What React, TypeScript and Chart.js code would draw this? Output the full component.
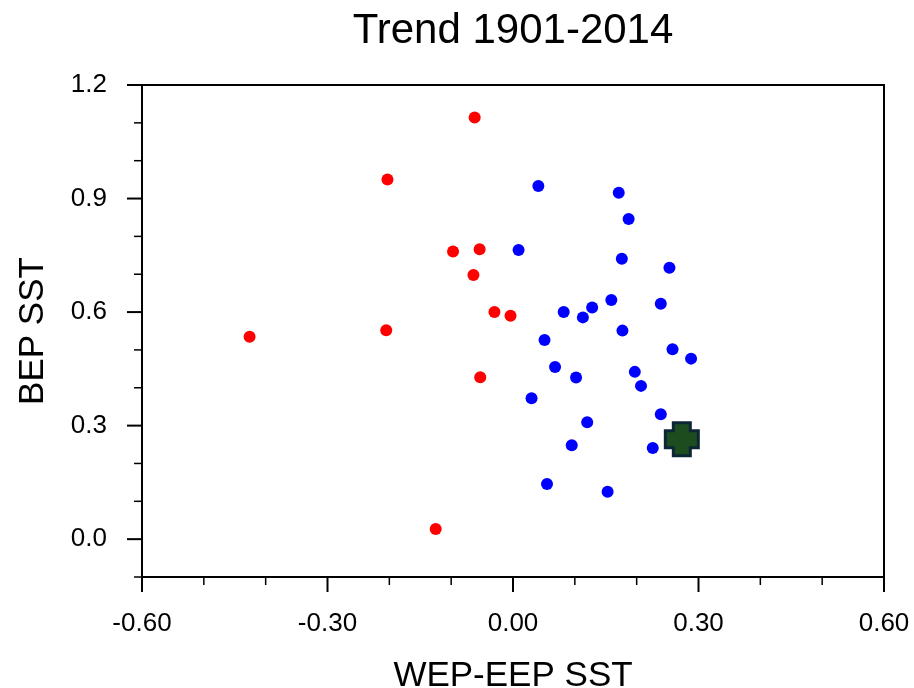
import React, { useEffect, useRef } from "react";
import { Chart, registerables } from "chart.js";

Chart.register(...registerables);

const TITLE = "Trend 1901-2014";
const X_TITLE = "WEP-EEP SST";
const Y_TITLE = "BEP SST";

const redX = [-0.062, -0.203, -0.097, -0.054, -0.064, -0.030, -0.004, -0.426, -0.205, -0.053, -0.125];
const redY = [1.114, 0.950, 0.760, 0.766, 0.698, 0.600, 0.590, 0.535, 0.552, 0.428, 0.027];

const blueX = [0.041, 0.171, 0.187, 0.009, 0.176, 0.253, 0.159, 0.128, 0.082, 0.113, 0.239, 0.177, 0.051, 0.258, 0.288, 0.068, 0.102, 0.197, 0.207, 0.030, 0.239, 0.120, 0.095, 0.226, 0.055, 0.153];
const blueY = [0.933, 0.915, 0.846, 0.764, 0.741, 0.717, 0.632, 0.612, 0.600, 0.586, 0.622, 0.551, 0.526, 0.502, 0.477, 0.455, 0.427, 0.442, 0.405, 0.372, 0.330, 0.309, 0.248, 0.241, 0.146, 0.125];

const crossX = [0.273];
const crossY = [0.264];

const xMajor = [-0.6, -0.3, 0, 0.3, 0.6];
const xMinor = [-0.5, -0.4, -0.2, -0.1, 0.1, 0.2, 0.4, 0.5];
const yMajor = [0, 0.3, 0.6, 0.9, 1.2];
const yMinor = [-0.1, 0.1, 0.2, 0.4, 0.5, 0.7, 0.8, 1.0, 1.1];

const FONT = "'Liberation Sans', Arial, Helvetica, sans-serif";

function makeCross(): HTMLCanvasElement {
  const c = document.createElement("canvas");
  const S = 38;
  c.width = S;
  c.height = S;
  const g = c.getContext("2d")!;
  const m = S / 2;
  const o = 16.5;
  const a = 8.5;
  g.beginPath();
  g.moveTo(m - a, m - o);
  g.lineTo(m + a, m - o);
  g.lineTo(m + a, m - a);
  g.lineTo(m + o, m - a);
  g.lineTo(m + o, m + a);
  g.lineTo(m + a, m + a);
  g.lineTo(m + a, m + o);
  g.lineTo(m - a, m + o);
  g.lineTo(m - a, m + a);
  g.lineTo(m - o, m + a);
  g.lineTo(m - o, m - a);
  g.lineTo(m - a, m - a);
  g.closePath();
  g.fillStyle = "#1d4d1f";
  g.fill();
  g.lineWidth = 3;
  g.lineJoin = "miter";
  g.strokeStyle = "#0c2636";
  g.stroke();
  return c;
}

const framePlugin = {
  id: "frame",
  afterDraw(chart: any) {
    const { ctx, chartArea, scales } = chart;
    const { left, right, top, bottom } = chartArea;
    const x = scales.x;
    const y = scales.y;
    ctx.save();
    ctx.strokeStyle = "#000";
    ctx.lineWidth = 2;
    ctx.strokeRect(left, top, right - left, bottom - top);

    const tickX = (vals: number[], len: number, w: number) => {
      ctx.lineWidth = w;
      vals.forEach((v) => {
        const px = x.getPixelForValue(v);
        ctx.beginPath();
        ctx.moveTo(px, bottom);
        ctx.lineTo(px, bottom + len);
        ctx.stroke();
      });
    };
    const tickY = (vals: number[], len: number, w: number) => {
      ctx.lineWidth = w;
      vals.forEach((v) => {
        const py = y.getPixelForValue(v);
        ctx.beginPath();
        ctx.moveTo(left, py);
        ctx.lineTo(left - len, py);
        ctx.stroke();
      });
    };
    tickX(xMajor, 15, 2);
    tickX(xMinor, 8, 1.5);
    tickY(yMajor, 15, 2);
    tickY(yMinor, 8, 1.5);

    ctx.fillStyle = "#000";
    ctx.textAlign = "center";
    ctx.textBaseline = "alphabetic";
    ctx.font = `42px ${FONT}`;
    ctx.fillText(TITLE, (left + right) / 2, 43);
    ctx.font = `35px ${FONT}`;
    ctx.fillText(X_TITLE, (left + right) / 2, 686);
    ctx.save();
    ctx.translate(43, (top + bottom) / 2);
    ctx.rotate(-Math.PI / 2);
    ctx.fillText(Y_TITLE, 0, 0);
    ctx.restore();
    ctx.restore();
  },
};

export default function App() {
  const ref = useRef<HTMLCanvasElement | null>(null);
  useEffect(() => {
    if (!ref.current) return;
    const cross = makeCross();
    const chart = new Chart(ref.current, {
      type: "scatter",
      data: {
        datasets: [
          {
            label: "obs",
            data: crossX.map((v, i) => ({ x: v, y: crossY[i] })),
            pointStyle: cross as any,
            pointRadius: 18,
            pointHoverRadius: 18,
          },
          {
            label: "blue",
            data: blueX.map((v, i) => ({ x: v, y: blueY[i] })),
            backgroundColor: "#0000ff",
            borderWidth: 0,
            pointRadius: 6,
            pointHoverRadius: 6,
          },
          {
            label: "red",
            data: redX.map((v, i) => ({ x: v, y: redY[i] })),
            backgroundColor: "#ff0000",
            borderWidth: 0,
            pointRadius: 6,
            pointHoverRadius: 6,
          },
        ],
      },
      options: {
        animation: false,
        responsive: false,
        events: [],
        layout: { padding: { top: 85, right: 30, left: 0, bottom: 0 } },
        plugins: {
          legend: { display: false },
          tooltip: { enabled: false },
          title: { display: false },
        },
        scales: {
          x: {
            type: "linear",
            min: -0.6,
            max: 0.6,
            grid: { display: false, drawTicks: false },
            border: { display: false },
            afterBuildTicks: (s: any) => {
              s.ticks = xMajor.map((v) => ({ value: v }));
            },
            afterFit: (s: any) => {
              s.height = 111;
              s.paddingLeft = 0;
              s.paddingRight = 0;
            },
            ticks: {
              padding: 31,
              maxRotation: 0,
              autoSkip: false,
              color: "#000",
              font: { family: FONT, size: 26 },
              callback: (v: any) => Number(v).toFixed(2),
            },
          },
          y: {
            type: "linear",
            min: -0.1,
            max: 1.2,
            grid: { display: false, drawTicks: false },
            border: { display: false },
            afterBuildTicks: (s: any) => {
              s.ticks = yMajor.map((v) => ({ value: v }));
            },
            afterFit: (s: any) => {
              s.width = 142;
              s.paddingTop = 0;
              s.paddingBottom = 0;
            },
            ticks: {
              padding: 35,
              autoSkip: false,
              color: "#000",
              font: { family: FONT, size: 26 },
              callback: (v: any) => Number(v).toFixed(1),
            },
          },
        },
      },
      plugins: [framePlugin],
    });
    return () => chart.destroy();
  }, []);
  return (
    <div style={{ position: "absolute", left: 0, top: 0, width: 914, height: 688, background: "#fff" }}>
      <canvas ref={ref} width={914} height={688} />
    </div>
  );
}
